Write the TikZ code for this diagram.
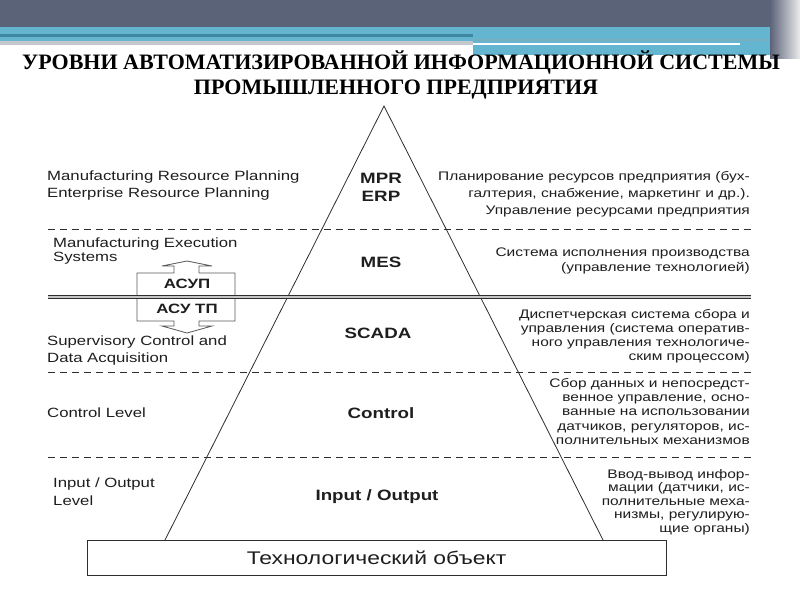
\documentclass[tikz,border=0pt]{standalone}
\usepackage{fontspec}
\setmainfont{Liberation Serif}
\newfontfamily\arialfont[FakeStretch=1.25]{Liberation Sans}
\usepackage{xcolor}
\usepackage{tikz}
\usetikzlibrary{positioning,calc}
\definecolor{headslate}{HTML}{5B6379}
\definecolor{headblue}{HTML}{63B5D0}
\definecolor{headteal}{HTML}{3F88A4}
\definecolor{headgray}{HTML}{C4C7CB}
\definecolor{linegray}{HTML}{2E2E2E}
\definecolor{txtgray}{HTML}{1E1E1E}

\begin{document}
\begin{tikzpicture}[x=1pt, y=-1pt,
  leftlbl/.style={anchor=west, inner sep=0pt, align=left, text=txtgray, font=\arialfont\fontsize{13.4}{17}\selectfont},
  rightlbl/.style={anchor=east, inner sep=0pt, align=right, text=txtgray, font=\arialfont\fontsize{12.4}{14}\selectfont},
  levellbl/.style={inner sep=0pt, align=center, text=txtgray, font=\arialfont\bfseries\fontsize{15}{18}\selectfont},
  asulbl/.style={inner sep=0pt, text=txtgray, font=\arialfont\bfseries\fontsize{13.5}{15}\selectfont},
  levelsep/.style={draw=linegray, line width=0.9pt, dash pattern=on 7pt off 5pt},
  pyrline/.style={draw=linegray, line width=0.8pt}]
\useasboundingbox (0,0) rectangle (800,600);
% Header bands
\fill[headslate] (0,0) rectangle (800,27);
\fill[headblue] (0,27) rectangle (473,41);
\fill[headteal] (0,34) rectangle (473,36.5);
\fill[headgray] (0,41) rectangle (473,45);
\fill[headblue] (473,27) rectangle (782,55);
\fill[headteal!70] (473,39) rectangle (782,41);
\fill[white] (473,43) rectangle (740,45);
\shade[left color=headslate, right color=gray!15] (770,0) rectangle (800,58);
% Title
\node[font=\bfseries\fontsize{22}{26}\selectfont] (title1) at (401,62) {УРОВНИ АВТОМАТИЗИРОВАННОЙ ИНФОРМАЦИОННОЙ СИСТЕМЫ};
\node[font=\bfseries\fontsize{22}{26}\selectfont] (title2) at (396,90) {ПРОМЫШЛЕННОГО ПРЕДПРИЯТИЯ};
% Level separators
\draw[levelsep] (48,229) -- (751,229);
\draw[levelsep] (48,372) -- (751,372);
\draw[levelsep] (48,457) -- (751,457);
% Pyramid
\coordinate (apex) at (384,106);
\coordinate (bl) at (165,540);
\coordinate (br) at (603,540);
\draw[pyrline] (bl) -- (apex) -- (br);
% Technological object
\node[draw=linegray, line width=1pt, fill=white, minimum width=579pt, minimum height=35pt, inner sep=0pt, text=txtgray, font=\arialfont\fontsize{18.3}{22}\selectfont] (obj) at (376.5,557.5) {Технологический объект};
% Pyramid levels
\node[levellbl] (erp) at (381,187) {MPR\\ERP};
\node[levellbl] (mes) at (381,262) {MES};
\node[levellbl] (scada) at (378,333) {SCADA};
\node[levellbl] (ctrl) at (381,413) {Control};
\node[levellbl] (io) at (377,497) {Input / Output};
% Left captions
\node[leftlbl] (lerp) at (47,185.5) {Manufacturing Resource Planning\\Enterprise Resource Planning};
\node[leftlbl, font=\arialfont\fontsize{13.4}{14}\selectfont] (lmes) at (53,251.5) {Manufacturing Execution\\Systems};
\node[leftlbl] (lscada) at (47,350.5) {Supervisory Control and\\Data Acquisition};
\node[leftlbl] (lctrl) at (47,413) {Control Level};
\node[leftlbl, font=\arialfont\fontsize{13.4}{18}\selectfont] (lio) at (53,492) {Input / Output\\Level};
% Right captions
\node[rightlbl, font=\arialfont\fontsize{12.4}{17}\selectfont] (rerp) at (750,194) {Планирование ресурсов предприятия (бух-\\галтерия, снабжение, маркетинг и др.).\\Управление ресурсами предприятия};
\node[rightlbl, font=\arialfont\fontsize{12.4}{15}\selectfont] (rmes) at (750,260.5) {Система исполнения производства\\(управление технологией)};
\node[rightlbl] (rscada) at (750,336) {Диспетчерская система сбора и\\управления (система оператив-\\ного управления технологиче-\\ским процессом)};
\node[rightlbl, font=\arialfont\fontsize{12.4}{14.3}\selectfont] (rctrl) at (750,411.5) {Сбор данных и непосредст-\\венное управление, осно-\\ванные на использовании\\датчиков, регуляторов, ис-\\полнительных механизмов};
\node[rightlbl, font=\arialfont\fontsize{12.4}{13.5}\selectfont] (rio) at (750,502) {Ввод-вывод инфор-\\мации (датчики, ис-\\полнительные меха-\\низмы, регулирую-\\щие органы)};
% ASU box with arrows
\draw[draw=linegray!80, line width=0.8pt] (137,273) -- (174,273) -- (174,266) -- (162,266) -- (187,261) -- (212,266) -- (199,266) -- (199,273) -- (235,273) -- (235,321) -- (199,321) -- (199,326) -- (212,326) -- (187,333) -- (162,326) -- (174,326) -- (174,321) -- (137,321) -- cycle;
\node[asulbl] (asup) at (187,284) {АСУП};
\node[asulbl] (asutp) at (187,309) {АСУ ТП};
% Boundary between management and process control
\draw[draw=linegray, line width=1.2pt, double=gray!45, double distance=1.6pt] (48,297) -- (751,297);
\end{tikzpicture}
\end{document}
